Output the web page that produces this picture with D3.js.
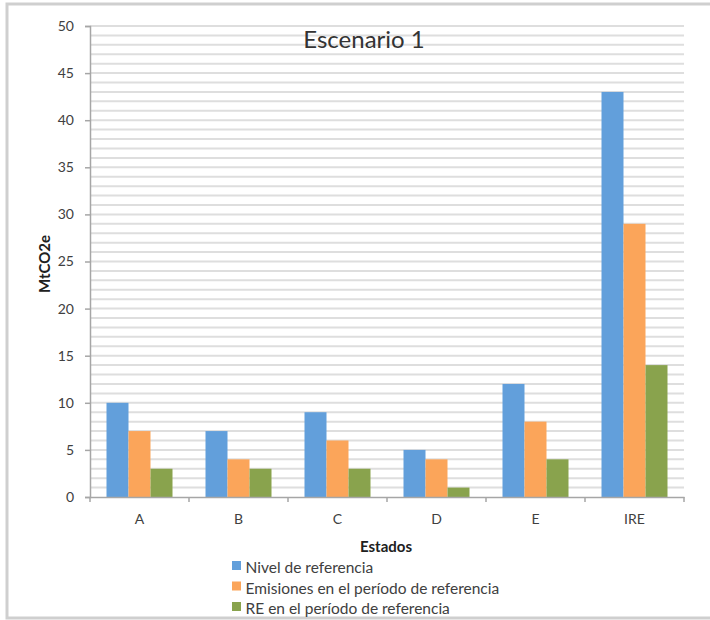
<!DOCTYPE html>
<html>
<head>
<meta charset="utf-8">
<script src="https://cdn.jsdelivr.net/npm/d3@7"></script>
<style>
  html, body { margin: 0; padding: 0; background: #fff; }
  svg { display: block; }
  text { font-family: Lato, "Open Sans", sans-serif; }
</style>
</head>
<body>
<svg id="chart" width="710" height="620"></svg>
<script>
// Categories (Estados) and the three series
const categories = ["A", "B", "C", "D", "E", "IRE"];
const nivelReferencia = [10, 7, 9, 5, 12, 43];
const emisionesPeriodo = [7, 4, 6, 4, 8, 29];
const rePeriodo = [3, 3, 3, 1, 4, 14];
const seriesNames = [
  "Nivel de referencia",
  "Emisiones en el período de referencia",
  "RE en el período de referencia"
];
const seriesColors = ["#629fdb", "#fba55a", "#89a34d"];
const yTicks = [0, 5, 10, 15, 20, 25, 30, 35, 40, 45, 50];

const series = [nivelReferencia, emisionesPeriodo, rePeriodo];

const svg = d3.select("#chart");

// Outer frame
svg.append("rect")
  .attr("x", 7).attr("y", 4)
  .attr("width", 720).attr("height", 614)
  .attr("fill", "none")
  .attr("stroke", "#cfcfcf")
  .attr("stroke-width", 3);

const plot = { left: 90, right: 684, top: 26, bottom: 497 };

const x0 = d3.scaleBand()
  .domain(categories)
  .range([plot.left, plot.right])
  .paddingInner(0)
  .paddingOuter(0);

const groupWidth = x0.bandwidth() * 2 / 3;
const x1 = d3.scaleBand()
  .domain(d3.range(series.length))
  .range([0, groupWidth]);

const y = d3.scaleLinear()
  .domain([0, 50])
  .range([plot.bottom, plot.top]);

// Horizontal grid lines, one per unit
svg.append("g")
  .selectAll("line")
  .data(d3.range(1, 51))
  .join("line")
  .attr("x1", plot.left)
  .attr("x2", plot.right)
  .attr("y1", d => y(d))
  .attr("y2", d => y(d))
  .attr("stroke", "#dedede")
  .attr("stroke-width", 2);

// Title
svg.append("text")
  .attr("x", 364)
  .attr("y", 48)
  .attr("text-anchor", "middle")
  .attr("font-size", 24)
  .attr("fill", "#333333")
  .text("Escenario 1");

// Bars
const groups = svg.append("g")
  .selectAll("g")
  .data(categories)
  .join("g")
  .attr("transform", d => `translate(${x0(d) + (x0.bandwidth() - groupWidth) / 2},0)`);

groups.selectAll("rect")
  .data((d, i) => series.map((s, k) => ({ k, v: s[i] })))
  .join("rect")
  .attr("x", d => x1(d.k))
  .attr("width", x1.bandwidth())
  .attr("y", d => y(d.v))
  .attr("height", d => y(0) - y(d.v))
  .attr("fill", d => seriesColors[d.k]);

// Y axis
const yAxis = svg.append("g")
  .attr("transform", `translate(${plot.left},0)`)
  .call(d3.axisLeft(y).tickValues(yTicks).tickSize(5).tickPadding(11));
yAxis.select(".domain").attr("stroke", "#a6a6a6").attr("stroke-width", 1.5);
yAxis.selectAll(".tick line").attr("stroke", "#a6a6a6").attr("stroke-width", 1.5);
yAxis.selectAll(".tick text")
  .attr("font-size", 14)
  .attr("fill", "#404040")
  .style("font-family", "Lato, 'Open Sans', sans-serif");

// X axis
const xAxis = svg.append("g")
  .attr("transform", `translate(0,${plot.bottom})`)
  .call(d3.axisBottom(x0).tickSize(0).tickPadding(17));
xAxis.select(".domain").attr("stroke", "#a6a6a6").attr("stroke-width", 1.5);
xAxis.selectAll(".tick text")
  .attr("font-size", 14)
  .attr("fill", "#404040")
  .style("font-family", "Lato, 'Open Sans', sans-serif");

// Boundary tick marks between categories
svg.append("g")
  .selectAll("line")
  .data(categories.map(c => x0(c)).concat([plot.right]))
  .join("line")
  .attr("x1", d => d).attr("x2", d => d)
  .attr("y1", plot.bottom).attr("y2", plot.bottom + 5)
  .attr("stroke", "#a6a6a6")
  .attr("stroke-width", 1.5);

// Axis titles
svg.append("text")
  .attr("transform", "translate(50,264) rotate(-90)")
  .attr("text-anchor", "middle")
  .attr("font-size", 15)
  .attr("font-weight", "bold")
  .attr("fill", "#202020")
  .text("MtCO2e");

svg.append("text")
  .attr("x", 386)
  .attr("y", 552)
  .attr("text-anchor", "middle")
  .attr("font-size", 15)
  .attr("font-weight", "bold")
  .attr("fill", "#202020")
  .text("Estados");

// Legend
const legend = svg.append("g")
  .selectAll("g")
  .data(seriesNames)
  .join("g")
  .attr("transform", (d, i) => `translate(232,${573 + i * 20.5})`);

legend.append("rect")
  .attr("x", 0).attr("y", -12)
  .attr("width", 9).attr("height", 9)
  .attr("fill", (d, i) => seriesColors[i]);

legend.append("text")
  .attr("x", 13.5)
  .attr("y", 0)
  .attr("font-size", 15.5)
  .attr("fill", "#404040")
  .text(d => d);
</script>
</body>
</html>
